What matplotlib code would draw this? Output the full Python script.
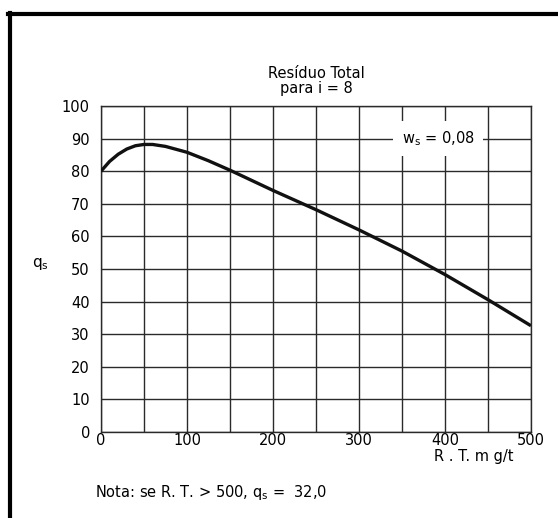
import matplotlib
matplotlib.use("Agg")
import matplotlib.pyplot as plt
from matplotlib.lines import Line2D

plt.rcParams['font.family'] = ['DejaVu Sans']
plt.rcParams['mathtext.fontset'] = 'dejavusans'

# curve: residuo total (mg/l) vs q_s
rt = [0, 10, 20, 30, 40, 50, 60, 75, 100, 125, 150, 175, 200, 250, 300, 350, 400, 450, 500]
qs = [80, 83, 85.2, 86.8, 87.8, 88.2, 88.2, 87.6, 85.8, 83.2, 80.3, 77.2, 74.1,
      68.2, 62, 55.5, 48.3, 40.6, 32.6]

x_ticks = [0, 100, 200, 300, 400, 500]
y_ticks = list(range(0, 101, 10))

fs = 10.5

fig = plt.figure(figsize=(5.58, 5.18), dpi=100)
ax = fig.add_axes([0.181, 0.166, 0.7705, 0.6294])

ax.plot(rt, qs, color='#111111', lw=2.4, solid_capstyle='butt', zorder=3)

ax.set_xlim(0, 500)
ax.set_ylim(0, 100)
ax.set_xticks(x_ticks)
ax.set_yticks(y_ticks)
ax.set_xticks(range(0, 501, 50), minor=True)
ax.tick_params(axis='both', which='both', length=0, labelsize=fs)
ax.tick_params(axis='x', pad=0.5)
ax.tick_params(axis='y', pad=8)
ax.grid(True, which='both', color='#2a2a2a', lw=1.0)
for s in ax.spines.values():
    s.set_color('#2a2a2a')
    s.set_linewidth(1.0)

ax.text(0.5, 1.03, 'Resíduo Total\npara i = 8', transform=ax.transAxes,
        ha='center', va='bottom', fontsize=fs, linespacing=1.0)

ax.text(392, 90, r'w$_\mathregular{s}$ = 0,08', ha='center', va='center', fontsize=fs,
        bbox=dict(facecolor='white', edgecolor='none', pad=6), zorder=4)

ax.set_ylabel(r'q$_\mathregular{s}$', rotation=0, fontsize=fs + 0.5)
ax.yaxis.set_label_coords(-0.142, 0.49)

fig.text(514 / 558, 1 - 449 / 518, 'R . T. m g/t', ha='right', va='top', fontsize=fs)
fig.text(95 / 558, 1 - 493 / 518, r'Nota: se R. T. > 500, q$_\mathregular{s}$ =  32,0',
         ha='left', va='center', fontsize=fs)

# outer frame (top and left edges only)
fig.add_artist(Line2D([8 / 558, 1.0], [1 - 14 / 518] * 2, color='black', lw=3,
                      transform=fig.transFigure))
fig.add_artist(Line2D([10 / 558] * 2, [0, 1 - 12.5 / 518], color='black', lw=3,
                      transform=fig.transFigure))

fig.savefig('out.png', dpi=100, facecolor='white')
